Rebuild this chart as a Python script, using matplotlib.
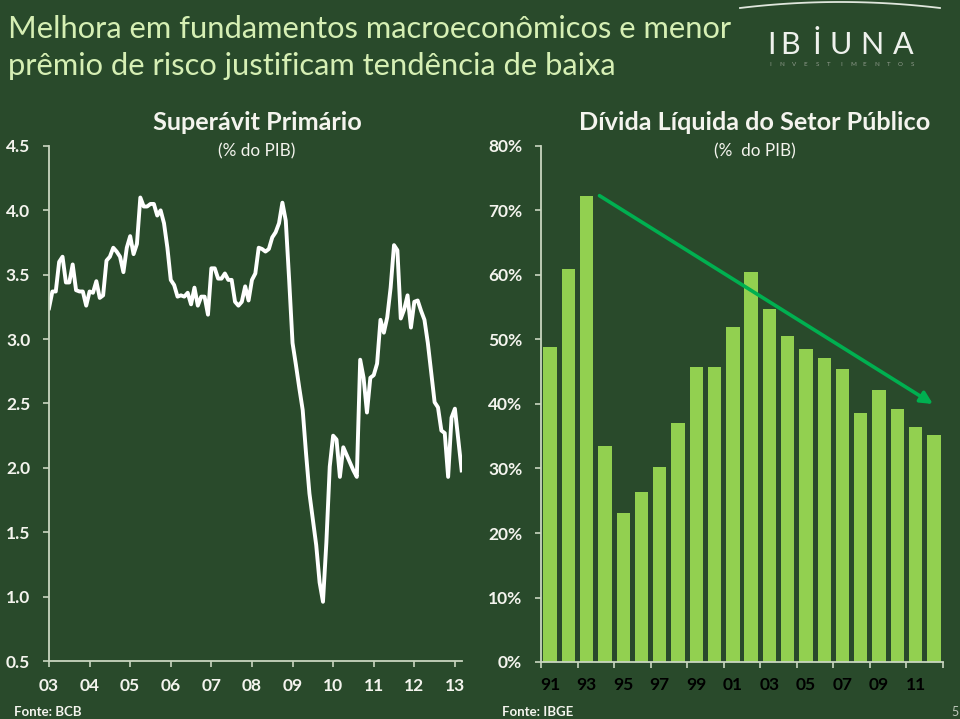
import numpy as np
import matplotlib
matplotlib.use('Agg')
import matplotlib.pyplot as plt

# Superavit primario (% do PIB), monthly from Jan 2003
superavit = [3.24, 3.37, 3.37, 3.60, 3.64, 3.44, 3.44, 3.58, 3.38, 3.37,
             3.37, 3.26, 3.37, 3.36, 3.45, 3.32, 3.34, 3.61, 3.64, 3.71,
             3.68, 3.64, 3.52, 3.71, 3.80, 3.66, 3.74, 4.10, 4.03, 4.03,
             4.05, 4.05, 3.96, 4.00, 3.90, 3.71, 3.46, 3.42, 3.33, 3.34,
             3.33, 3.36, 3.27, 3.40, 3.26, 3.33, 3.33, 3.19, 3.55, 3.55,
             3.47, 3.47, 3.51, 3.46, 3.46, 3.29, 3.26, 3.29, 3.41, 3.30,
             3.46, 3.51, 3.71, 3.70, 3.68, 3.70, 3.79, 3.83, 3.90, 4.06,
             3.92, 3.46, 2.97, 2.80, 2.62, 2.45, 2.11, 1.80, 1.60, 1.40,
             1.11, 0.96, 1.42, 2.01, 2.25, 2.22, 1.93, 2.16, 2.10, 2.04,
             1.98, 1.93, 2.84, 2.70, 2.43, 2.70, 2.72, 2.81, 3.15, 3.05,
             3.17, 3.40, 3.73, 3.69, 3.16, 3.23, 3.34, 3.09, 3.29, 3.30,
             3.22, 3.15, 2.97, 2.74, 2.51, 2.47, 2.29, 2.27, 1.93, 2.39,
             2.46, 2.22, 1.98]
sup_years = ['03', '04', '05', '06', '07', '08', '09', '10', '11', '12', '13']

# Divida liquida do setor publico (% do PIB)
div_years = ['91', '92', '93', '94', '95', '96', '97', '98', '99', '00', '01',
             '02', '03', '04', '05', '06', '07', '08', '09', '10', '11', '12']
divida = [48.8, 60.9, 72.3, 33.5, 23.1, 26.3, 30.2, 37.0, 45.7, 45.7, 52.0,
          60.4, 54.8, 50.6, 48.5, 47.2, 45.5, 38.6, 42.1, 39.2, 36.4, 35.2]

bg = '#294a2b'
axcol = '#c9d6c0'
txt = '#f4f4ee'
font = 'Lato'

fig = plt.figure(figsize=(9.6, 7.19), dpi=100, facecolor=bg)

# ---- left: superavit primario
ax1 = fig.add_axes([49/960, 58/719, 413/960, 515/719], facecolor=bg)
months = np.arange(len(superavit))
ax1.plot(months, superavit, color='white', lw=2.8, solid_joinstyle='round')
ax1.set_xlim(0, 122.1)
ax1.set_ylim(0.5, 4.5)
ax1.set_xticks(np.arange(len(sup_years)) * 12)
ax1.set_xticklabels(sup_years)
ax1.set_yticks(np.arange(0.5, 4.51, 0.5))
ax1.set_yticklabels(['%.1f' % v for v in np.arange(0.5, 4.51, 0.5)])

# ---- right: divida liquida
ax2 = fig.add_axes([541/960, 57/719, 402/960, 516/719], facecolor=bg)
pos = np.arange(len(divida))
ax2.bar(pos, divida, width=0.73, color='#92d050')
ax2.set_xlim(-0.5, len(divida) - 0.5)
ax2.set_ylim(0, 80)
ax2.set_yticks(np.arange(0, 81, 10))
ax2.set_yticklabels(['%d%%' % v for v in range(0, 81, 10)])
ax2.set_xticks(np.arange(-0.5, len(divida), 2))
ax2.set_xticklabels([])
ax2.set_xticks(pos[::2], minor=True)
ax2.set_xticklabels(div_years[::2], minor=True)
ax2.annotate('', xy=(20.95, 40.0), xytext=(2.7, 72.3),
             arrowprops=dict(arrowstyle='-|>', color='#00b050', lw=2.6,
                             mutation_scale=18, shrinkA=0, shrinkB=0))

for ax in (ax1, ax2):
    for s in ('top', 'right'):
        ax.spines[s].set_visible(False)
    for s in ('left', 'bottom'):
        ax.spines[s].set_color(axcol)
        ax.spines[s].set_linewidth(1.3)
    ax.tick_params(colors=axcol, labelcolor=txt, width=1.2)
    ax.tick_params(axis='y', length=4.5, pad=9)
    ax.tick_params(axis='x', which='major', length=4, pad=8)
    for lab in ax.get_xticklabels(which='both') + ax.get_yticklabels():
        lab.set_fontfamily(font)
        lab.set_fontweight('bold')
        lab.set_fontsize(12.5)
ax2.tick_params(axis='x', which='minor', length=0, pad=11)
ax1.spines['bottom'].set_bounds(0, 122.1)

# ---- titles
tcol = '#d6efb4'
fig.text(8/960, 1 - 38/719, 'Melhora em fundamentos macroeconômicos e menor',
         color=tcol, fontsize=22.2, family=font)
fig.text(8/960, 1 - 75/719, 'prêmio de risco justificam tendência de baixa',
         color=tcol, fontsize=22.2, family=font)

fig.text(257/960, 1 - 123/719, 'Superávit Primário', color=txt, fontsize=18.2,
         family=font, fontweight='bold', ha='center', va='center')
fig.text(257/960, 1 - 151/719, '(% do PIB)', color=txt, fontsize=12.3,
         family=font, ha='center', va='center')
fig.text(755/960, 1 - 123/719, 'Dívida Líquida do Setor Público', color=txt,
         fontsize=18.2, family=font, fontweight='bold', ha='center', va='center')
fig.text(755/960, 1 - 151/719, '(%  do PIB)', color=txt, fontsize=12.3,
         family=font, ha='center', va='center')

fig.text(14/960, 1 - 712/719, 'Fonte: BCB', color=txt, fontsize=9.5,
         family=font, fontweight='bold', va='center')
fig.text(502/960, 1 - 712/719, 'Fonte: IBGE', color=txt, fontsize=9.5,
         family=font, fontweight='bold', va='center')
fig.text(955/960, 1 - 712/719, '5', color='#c0c8bc', fontsize=9,
         family=font, ha='center', va='center')

# ---- logo
logo = 'IBİUNA'
logo_x = [771, 790, 817, 841, 872, 903]
for ch, lx in zip(logo, logo_x):
    fig.text(lx/960, 1 - 54/719, ch, color='#eef1ec', fontsize=22,
             family=font, ha='center', va='baseline')
sub = 'INVESTIMENTOS'
for ch, lx in zip(sub, np.linspace(770, 912, len(sub))):
    fig.text(lx/960, 1 - 64/719, ch, color='#8f9a8c', fontsize=4.5,
             family=font, ha='center', va='center')
arc_x = np.linspace(740, 940, 60)
arc_y = 2 + 6 * ((arc_x - 840) / 100) ** 2
fig.add_artist(plt.Line2D(arc_x / 960, 1 - arc_y / 719, color='#dfe6dc',
                          lw=1.3, transform=fig.transFigure))

fig.savefig('out.png', dpi=100, facecolor=bg)
